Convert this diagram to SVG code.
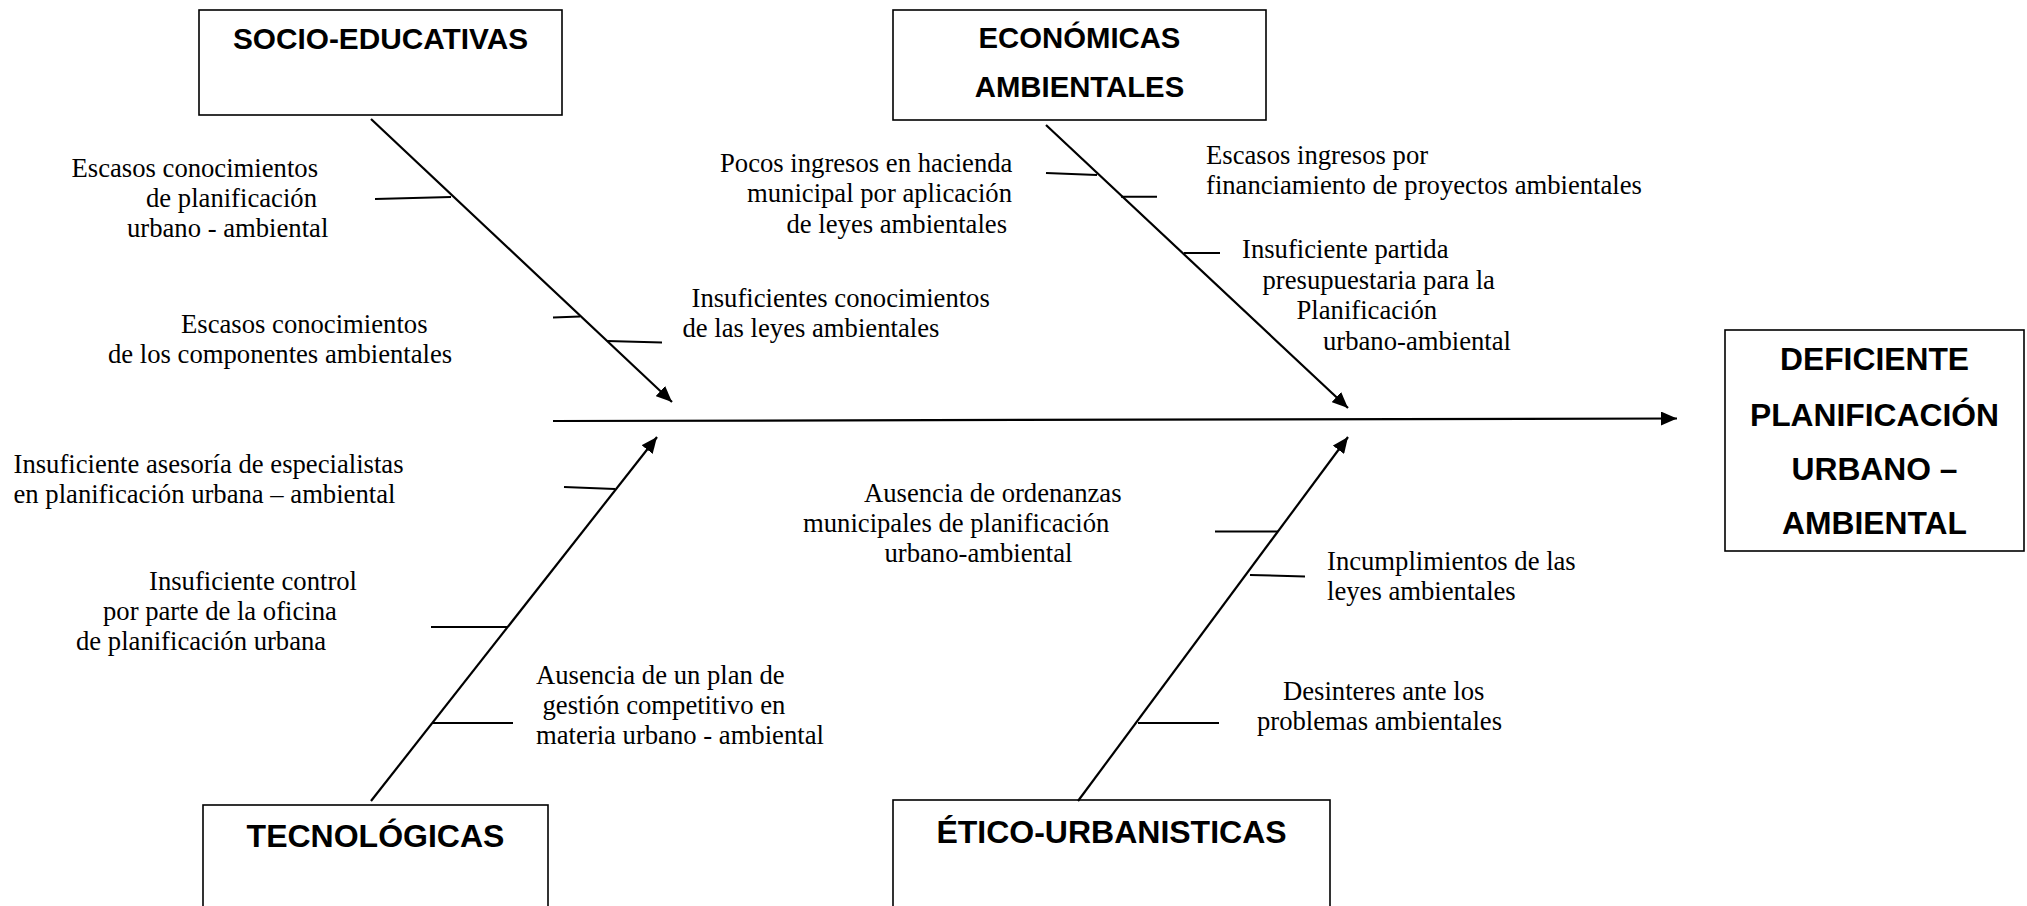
<svg xmlns="http://www.w3.org/2000/svg" width="2027" height="906" viewBox="0 0 2027 906">
<style>
.box{fill:#fff;stroke:#000;stroke-width:1.6}
.hd{font-family:"Liberation Sans",Arial,sans-serif;font-weight:bold;fill:#000;text-anchor:middle}
.lb{font-family:"Liberation Serif","Times New Roman",serif;font-size:26.67px;fill:#000}
.br{fill:none;stroke:#000;stroke-width:2.2}
.tk{fill:none;stroke:#000;stroke-width:2}
</style>
<defs>
<marker id="ah" viewBox="0 0 16 14" refX="16" refY="7" markerWidth="16" markerHeight="14" markerUnits="userSpaceOnUse" orient="auto">
<path d="M0,0 L16,7 L0,14 z" fill="#000"/>
</marker>
</defs>
<rect width="2027" height="906" fill="#fff"/>

<g id="socio">
<rect class="box" x="199" y="10" width="363" height="105"/>
<text class="hd" x="380.5" y="49" font-size="29.8">SOCIO-EDUCATIVAS</text>
</g>
<g id="economicas">
<rect class="box" x="893" y="10" width="373" height="110"/>
<text class="hd" x="1079.5" y="48" font-size="29.3">ECONÓMICAS</text>
<text class="hd" x="1079.5" y="97" font-size="29.3">AMBIENTALES</text>
</g>
<g id="tecnologicas">
<rect class="box" x="203" y="805" width="345" height="110"/>
<text class="hd" x="375.5" y="847" font-size="32">TECNOLÓGICAS</text>
</g>
<g id="etico">
<rect class="box" x="893" y="800" width="437" height="115"/>
<text class="hd" x="1111.5" y="843" font-size="32">ÉTICO-URBANISTICAS</text>
</g>
<g id="efecto">
<rect class="box" x="1725" y="330" width="299" height="221"/>
<text class="hd" x="1874.5" y="370" font-size="31.8">DEFICIENTE</text>
<text class="hd" x="1874.5" y="426" font-size="31.8">PLANIFICACIÓN</text>
<text class="hd" x="1874.5" y="480" font-size="31.8">URBANO –</text>
<text class="hd" x="1874.5" y="534" font-size="31.8">AMBIENTAL</text>
</g>

<g id="connectors">
<path class="br" d="M553,421 L1677,418.5" marker-end="url(#ah)" stroke-width="2.6"/>
<path class="br" d="M371,119 L672,402" marker-end="url(#ah)"/>
<path class="br" d="M1046,125 L1348,408" marker-end="url(#ah)"/>
<path class="br" d="M371,801 L657,437" marker-end="url(#ah)"/>
<path class="br" d="M1078,801 L1348,437" marker-end="url(#ah)"/>
<path class="tk" d="M375,199 L451,197"/>
<path class="tk" d="M553,317.5 L580,316.5"/>
<path class="tk" d="M607,341 L662,342.5"/>
<path class="tk" d="M1046,173 L1097,175"/>
<path class="tk" d="M1121,196.7 L1157,196.7"/>
<path class="tk" d="M1184,253 L1220,253"/>
<path class="tk" d="M564,487 L615,489"/>
<path class="tk" d="M431,627 L508,627"/>
<path class="tk" d="M433,723 L513,723"/>
<path class="tk" d="M1215,531.5 L1278,531.5"/>
<path class="tk" d="M1250,575 L1305,576.5"/>
<path class="tk" d="M1138,723 L1219,723"/>
</g>

<g id="causas">
<text class="lb"><tspan x="71.5" y="177">Escasos conocimientos</tspan><tspan x="146" y="207">de planificación</tspan><tspan x="127" y="237">urbano - ambiental</tspan></text>
<text class="lb"><tspan x="181" y="333">Escasos conocimientos</tspan><tspan x="108" y="363">de los componentes ambientales</tspan></text>
<text class="lb"><tspan x="691.5" y="306.5">Insuficientes conocimientos</tspan><tspan x="682.5" y="336.5">de las leyes ambientales</tspan></text>
<text class="lb"><tspan x="720" y="172">Pocos ingresos en hacienda</tspan><tspan x="747" y="202">municipal por aplicación</tspan><tspan x="786.5" y="233">de leyes ambientales</tspan></text>
<text class="lb"><tspan x="1206" y="163.5">Escasos ingresos por</tspan><tspan x="1206" y="193.5">financiamiento de proyectos ambientales</tspan></text>
<text class="lb"><tspan x="1242" y="258">Insuficiente partida</tspan><tspan x="1262.5" y="288.5">presupuestaria para la</tspan><tspan x="1296.5" y="318.5">Planificación</tspan><tspan x="1323" y="350">urbano-ambiental</tspan></text>
<text class="lb"><tspan x="13.5" y="473">Insuficiente asesoría de especialistas</tspan><tspan x="13.5" y="503">en planificación urbana – ambiental</tspan></text>
<text class="lb"><tspan x="149" y="590">Insuficiente control</tspan><tspan x="103" y="620">por parte de la oficina</tspan><tspan x="76" y="650">de planificación urbana</tspan></text>
<text class="lb"><tspan x="536" y="683.5">Ausencia de un plan de</tspan><tspan x="542.5" y="713.5">gestión competitivo en</tspan><tspan x="536" y="743.5">materia urbano - ambiental</tspan></text>
<text class="lb"><tspan x="864" y="501.5">Ausencia de ordenanzas</tspan><tspan x="803" y="531.5">municipales de planificación</tspan><tspan x="884.5" y="561.5">urbano-ambiental</tspan></text>
<text class="lb"><tspan x="1327" y="569.5">Incumplimientos de las</tspan><tspan x="1327" y="599.5">leyes ambientales</tspan></text>
<text class="lb"><tspan x="1283" y="700">Desinteres ante los</tspan><tspan x="1257" y="729.5">problemas ambientales</tspan></text>
</g>
</svg>
